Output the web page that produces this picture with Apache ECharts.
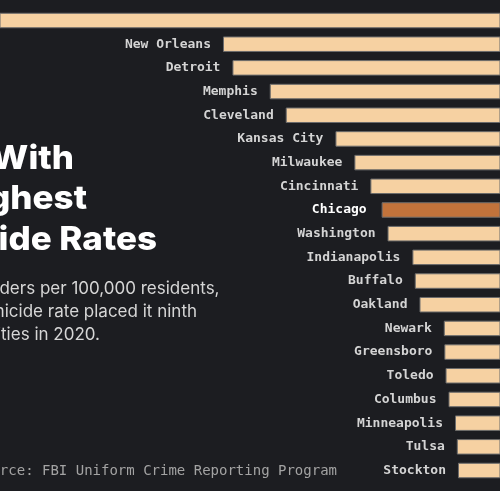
<!DOCTYPE html>
<html>
<head>
<meta charset="utf-8">
<script src="https://cdn.jsdelivr.net/npm/echarts@6/dist/echarts.min.js"></script>
<style>
html,body{margin:0;padding:0;background:#1c1d21;}
#chart{width:500px;height:491px;}
</style>
</head>
<body>
<div id="chart"></div>
<script>
var cities = ["St. Louis","New Orleans","Detroit","Memphis","Cleveland","Kansas City","Milwaukee","Cincinnati","Chicago","Washington","Indianapolis","Buffalo","Oakland","Newark","Greensboro","Toledo","Columbus","Minneapolis","Tulsa","Stockton"];
var rates = [96, 55.4, 53.8, 47.5, 44.8, 36.4, 33.2, 30.5, 28.6, 27.6, 23.4, 23.0, 22.2, 18.1, 18.0, 17.8, 17.3, 16.2, 15.9, 15.7];
var highlight = "Chicago";
var titleLines = ["U.S. Cities With", "the Highest", "Homicide Rates"];
var subtitleLines = ["With 24.4 murders per 100,000 residents,", "Chicago's homicide rate placed it ninth", "among large U.S. cities in 2020."];
var sourceText = "Source: FBI Uniform Crime Reporting Program";

var chart = echarts.init(document.getElementById('chart'), null, {renderer:'canvas'});
var data = cities.map(function(c, i){
  var item = {name: c, value: rates[i]};
  if (c === highlight) {
    item.itemStyle = {color: '#c2733b'};
    item.label = {color: '#ffffff', distance: 15};
  }
  return item;
});
var graphics = [];
var tY = [159, 199.5, 240], tX = [74, 87, 157];
titleLines.forEach(function(t, i){
  graphics.push({type:'text', x:tX[i], y:tY[i], scaleX:1.06, style:{text:t, fill:'#ffffff', font:'800 33px Inter', align:'right', verticalAlign:'middle'}});
});
var sY = [288.5, 311.5, 334.5], sX = [219.5, 197, 100];
subtitleLines.forEach(function(t, i){
  graphics.push({type:'text', x:sX[i], y:sY[i], style:{text:t, fill:'#d6d6d6', font:'17px Inter', align:'right', verticalAlign:'middle'}});
});
graphics.push({type:'text', x:337, y:471, style:{text:sourceText, fill:'#a3a3a3', font:'14px "DejaVu Sans Mono"', align:'right', verticalAlign:'middle'}});

chart.setOption({
  backgroundColor: '#1c1d21',
  animation: false,
  grid: {left: 0, right: 0, top: 8.66, bottom: 8.64, containLabel: false},
  xAxis: {type: 'value', inverse: true, min: 8.6, max: 93.07, show: false},
  yAxis: {type: 'category', inverse: true, data: cities, show: false},
  series: [{
    type: 'bar',
    data: data,
    barWidth: 15.5,
    clip: true,
    itemStyle: {color: '#f6d1a2', borderColor: '#6b6b6b', borderWidth: 1},
    label: {
      show: true, position: 'left', distance: 12, formatter: '{b}',
      fontFamily: 'DejaVu Sans Mono', fontSize: 13, fontWeight: 'bold', color: '#d4d4d4'
    }
  }],
  graphic: graphics
});
</script>
</body>
</html>
